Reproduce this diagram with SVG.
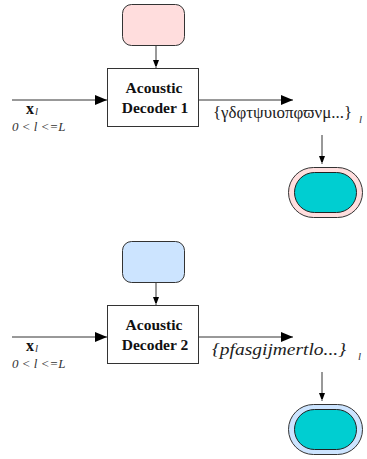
<svg xmlns="http://www.w3.org/2000/svg" width="367" height="459" viewBox="0 0 367 459">
<style>
.box{fill:#fff;stroke:#333;stroke-width:1}
.ln{stroke:#333;stroke-width:1;fill:none}
.lbl{font-family:"Liberation Serif",serif;font-weight:bold;font-size:15.5px;fill:#111;text-anchor:middle}
.x{font-family:"Liberation Serif",serif;font-weight:bold;font-size:16px;fill:#111}
.sub{font-family:"Liberation Serif",serif;font-style:italic;font-size:11px;fill:#333}
.rng{font-family:"Liberation Serif",serif;font-style:italic;font-size:13px;fill:#333}
.seq{font-family:"Liberation Serif",serif;font-size:16px;fill:#222}
.seqi{font-family:"Liberation Serif",serif;font-style:italic;font-size:16px;fill:#222}
.teal{fill:#00CED1;stroke:#222;stroke-width:1}
</style>
<defs>
<marker id="big" markerWidth="12" markerHeight="10" refX="12" refY="5" orient="auto" markerUnits="userSpaceOnUse"><path d="M0,0 L12,5 L0,10 Z" fill="#000"/></marker>
<marker id="small" markerWidth="6" markerHeight="8" refX="8" refY="3" orient="auto" markerUnits="userSpaceOnUse"><path d="M0,0 L8,3 L0,6 Z" fill="#000"/></marker>
</defs>

<g id="connectors">
<line class="ln" x1="156" y1="45" x2="156" y2="68" marker-end="url(#small)"/>
<line class="ln" x1="12" y1="100" x2="107" y2="100" marker-end="url(#big)"/>
<line class="ln" x1="199" y1="100" x2="293" y2="100" marker-end="url(#big)"/>
<line class="ln" x1="322" y1="135" x2="322" y2="164" marker-end="url(#small)"/>
<line class="ln" x1="156" y1="283" x2="156" y2="305" marker-end="url(#small)"/>
<line class="ln" x1="12" y1="337" x2="107" y2="337" marker-end="url(#big)"/>
<line class="ln" x1="199" y1="337" x2="293" y2="337" marker-end="url(#big)"/>
<line class="ln" x1="322" y1="372" x2="322" y2="401" marker-end="url(#small)"/>
</g>

<g id="model1"><rect x="122.5" y="4.5" width="62" height="41" rx="9" fill="#FFDDDD" stroke="#333"/></g>
<g id="decoder1">
<rect class="box" x="107.5" y="68.5" width="91" height="58"/>
<text class="lbl" x="154" y="93">Acoustic</text>
<text class="lbl" x="155" y="113">Decoder 1</text>
</g>
<g id="input1">
<text class="x" x="26" y="114">x</text>
<text class="sub" x="35" y="115">l</text>
<text class="rng" x="12" y="131">0 &lt; l &lt;=L</text>
</g>
<g id="output1">
<text class="seq" x="213" y="118" textLength="139" lengthAdjust="spacingAndGlyphs">{γδφτψυιοπφϖνμ...}</text>
<text class="sub" x="359" y="123">l</text>
</g>
<g id="result1">
<rect x="288.5" y="167.5" width="74" height="50" rx="25" fill="#FFDEDE" stroke="#333"/>
<rect class="teal" x="294.5" y="172.5" width="62" height="40" rx="20"/>
</g>

<g id="model2"><rect x="122.5" y="241.5" width="62" height="41" rx="9" fill="#CCE4FF" stroke="#333"/></g>
<g id="decoder2">
<rect class="box" x="107.5" y="305.5" width="91" height="58"/>
<text class="lbl" x="154" y="330">Acoustic</text>
<text class="lbl" x="155" y="350">Decoder 2</text>
</g>
<g id="input2">
<text class="x" x="26" y="351">x</text>
<text class="sub" x="35" y="352">l</text>
<text class="rng" x="12" y="368">0 &lt; l &lt;=L</text>
</g>
<g id="output2">
<text class="seqi" x="212" y="355" textLength="134" lengthAdjust="spacingAndGlyphs">{pfasgijmertlo...}</text>
<text class="sub" x="358" y="360">l</text>
</g>
<g id="result2">
<rect x="288.5" y="404.5" width="74" height="50" rx="25" fill="#CCE4FF" stroke="#333"/>
<rect class="teal" x="294.5" y="409.5" width="62" height="40" rx="20"/>
</g>
</svg>
